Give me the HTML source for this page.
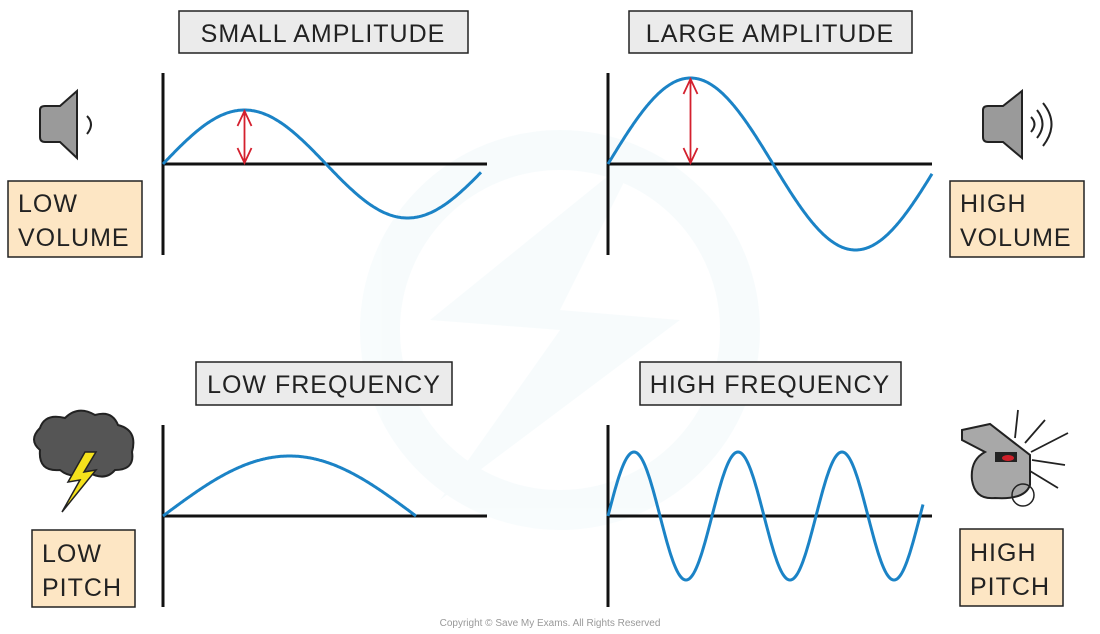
<!DOCTYPE html>
<html><head><meta charset="utf-8"><style>
body{margin:0;background:#fff;}
svg{display:block;font-family:"Liberation Sans",sans-serif;}
.t{font-size:25px;fill:#222;letter-spacing:1px;}
.tb{fill:#ebebeb;stroke:#222;stroke-width:1.5;}
.lb{fill:#fde6c4;stroke:#222;stroke-width:1.5;}
.ax{stroke:#111;stroke-width:3;fill:none;}
.wv{stroke:#1b83c6;stroke-width:3;fill:none;}
</style></head><body>
<svg id="c" width="1100" height="634" viewBox="0 0 1100 634">
<g opacity="0.035">
<circle cx="560" cy="330" r="180" fill="none" stroke="#3aa0c8" stroke-width="40"/>
<path d="M640 150 L430 320 L560 330 L440 500 L680 320 L560 310 Z" fill="#3aa0c8"/>
</g>
<g><rect class="tb" x="179" y="11" width="289" height="42"/><text class="t" x="323" y="42" text-anchor="middle">SMALL  AMPLITUDE</text></g>
<g><rect class="tb" x="629" y="11" width="283" height="42"/><text class="t" x="770" y="42" text-anchor="middle">LARGE  AMPLITUDE</text></g>
<g><rect class="tb" x="196" y="362" width="256" height="43"/><text class="t" x="324" y="393" text-anchor="middle">LOW  FREQUENCY</text></g>
<g><rect class="tb" x="640" y="362" width="261" height="43"/><text class="t" x="770" y="393" text-anchor="middle">HIGH  FREQUENCY</text></g>

<g><rect class="lb" x="8" y="181" width="134" height="76"/><text class="t" x="18" y="212">LOW</text><text class="t" x="18" y="246">VOLUME</text></g>
<g><rect class="lb" x="950" y="181" width="134" height="76"/><text class="t" x="960" y="212">HIGH</text><text class="t" x="960" y="246">VOLUME</text></g>
<g><rect class="lb" x="32" y="530" width="103" height="77"/><text class="t" x="42" y="562">LOW</text><text class="t" x="42" y="596">PITCH</text></g>
<g><rect class="lb" x="960" y="529" width="103" height="77"/><text class="t" x="970" y="561">HIGH</text><text class="t" x="970" y="595">PITCH</text></g>

<g>
<path d="M40 110 Q40 106 45 106 L60 106 L77 91 L77 158 L60 142 L45 142 Q40 142 40 137 Z" fill="#9a9a9a" stroke="#222" stroke-width="2"/>
<path d="M87 116 Q95 124 87 134" fill="none" stroke="#222" stroke-width="2"/>
</g>
<g>
<path d="M983 110 Q983 106 988 106 L1003 106 L1022 91 L1022 158 L1003 142 L988 142 Q983 142 983 137 Z" fill="#9a9a9a" stroke="#222" stroke-width="2"/>
<path d="M1031 117 Q1038 124 1031 132 M1037 110 Q1048 124 1037 138 M1043 103 Q1060 124 1043 146" fill="none" stroke="#222" stroke-width="2"/>
</g>
<g>
<path d="M40 450 Q28 440 40 428 Q45 413 65 418 Q78 405 95 415 Q112 410 118 425 Q138 430 132 452 Q135 470 115 470 Q105 482 88 472 Q72 480 60 470 Q38 472 40 450 Z" fill="#555" stroke="#222" stroke-width="2"/>
<path d="M85 452 L68 482 L80 480 L62 512 L96 470 L84 472 L96 452 Z" fill="#f5e21c" stroke="#222" stroke-width="1.5"/>
</g>
<g>
<path d="M962 430 L990 424 L1030 455 L1030 485 Q1025 500 995 498 Q975 500 972 480 Q970 460 985 452 L962 440 Z" fill="#a8a8a8" stroke="#222" stroke-width="2"/>
<rect x="995" y="452" width="22" height="10" fill="#222"/><ellipse cx="1008" cy="458" rx="6" ry="3" fill="#d0202a"/>
<circle cx="1023" cy="495" r="11" fill="none" stroke="#222" stroke-width="1.5"/>
<path d="M1018 410 L1015 438 M1045 420 L1025 443 M1068 433 L1031 452 M1032 460 L1065 465 M1030 471 L1058 488" stroke="#222" stroke-width="1.8"/>
</g>
<g id="plots"></g>
<text x="550" y="626" text-anchor="middle" font-size="10" fill="#999">Copyright © Save My Exams. All Rights Reserved</text>
</svg>
<script>
const panelNames = ['small-amplitude','large-amplitude','low-frequency','high-frequency'];
const amplitudes = [54, 86, 60, 64];
const wavelengths = [326, 330, 506, 104];
const waveLengthsX = [318, 324, 253, 315];
const showArrow = [true, true, false, false];
const originX = [163, 608, 163, 608];
const originY = [164, 164, 516, 516];
const NS='http://www.w3.org/2000/svg';
const g=document.getElementById('plots');
function mk(t,a){const e=document.createElementNS(NS,t);for(const k in a)e.setAttribute(k,a[k]);return e;}
function xScale(i,x){return originX[i]+x;}
function yScale(i,v){return originY[i]-v;}
for(let i=0;i<4;i++){
  const grp=mk('g',{});
  
  
  const ya=mk('line',{class:'ax',x1:originX[i],x2:originX[i],y1:originY[i]-91,y2:originY[i]+91});
  
  
  const xa=mk('line',{class:'ax',x1:originX[i],x2:originX[i]+324,y1:originY[i],y2:originY[i]});
  
  
  grp.appendChild(ya);grp.appendChild(xa);
  let d='';
  for(let x=0;x<=waveLengthsX[i];x+=1){
    const v=amplitudes[i]*Math.sin(2*Math.PI*x/wavelengths[i]);
    d+=(x?'L':'M')+xScale(i,x).toFixed(1)+' '+yScale(i,v).toFixed(1);
  }
  const w=mk('path',{class:'wv',d:d});
  
  
  grp.appendChild(w);
  if(showArrow[i]){
    const ax=xScale(i,wavelengths[i]/4),top=yScale(i,amplitudes[i]),bot=originY[i];
    const a=mk('path',{d:`M${ax} ${top+1}L${ax} ${bot-1}M${ax-7} ${top+16}L${ax} ${top+1}L${ax+7} ${top+16}M${ax-7} ${bot-16}L${ax} ${bot-1}L${ax+7} ${bot-16}`,stroke:'#d4202e','stroke-width':1.8,fill:'none'});
    
    
    grp.appendChild(a);
  }
  g.appendChild(grp);
}
</script>
</body></html>
